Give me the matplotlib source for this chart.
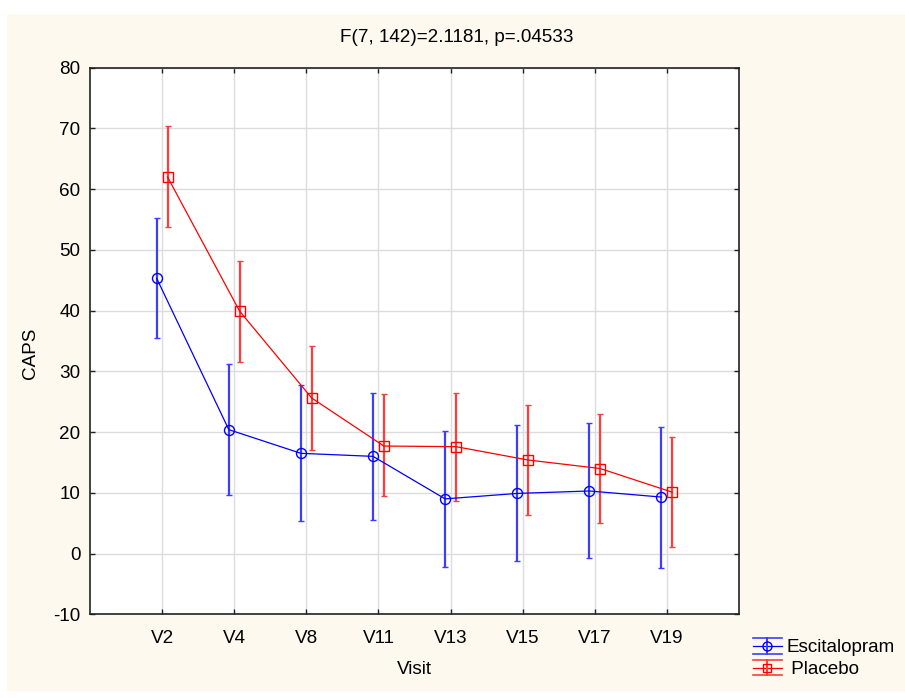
import numpy as np
import matplotlib
matplotlib.use("Agg")
import matplotlib.pyplot as plt
from matplotlib.patches import Rectangle
from matplotlib.lines import Line2D
from matplotlib.legend_handler import HandlerBase
from matplotlib.container import ErrorbarContainer

plt.rcParams['font.family'] = ['Liberation Sans', 'DejaVu Sans']
plt.rcParams['axes.unicode_minus'] = False

visits = ["V2", "V4", "V8", "V11", "V13", "V15", "V17", "V19"]
esc_mean = [45.3, 20.4, 16.5, 16.0, 9.0, 9.9, 10.3, 9.3]
esc_upper = [55.2, 31.2, 27.7, 26.5, 20.1, 21.2, 21.5, 20.9]
esc_lower = [35.5, 9.7, 5.3, 5.6, -2.2, -1.2, -0.8, -2.3]
plc_mean = [62.0, 39.9, 25.6, 17.7, 17.6, 15.4, 14.0, 10.1]
plc_upper = [70.4, 48.2, 34.2, 26.2, 26.5, 24.5, 22.9, 19.2]
plc_lower = [53.8, 31.6, 17.0, 9.5, 8.7, 6.3, 5.0, 1.1]
yticks = [-10, 0, 10, 20, 30, 40, 50, 60, 70, 80]
title = "F(7, 142)=2.1181, p=.04533"

FS = 13.6
fig = plt.figure(figsize=(9.05, 7.0), dpi=100)
fig.patch.set_facecolor('white')
fig.patches.append(Rectangle((7/905, 9/700), 898/905, 677/700, transform=fig.transFigure,
                             facecolor='#fdf9ef', edgecolor='none', zorder=-10))

ax = fig.add_axes([90/905, 1 - 614.3/700, (739 - 90)/905, (614.3 - 67.6)/700])
ax.set_facecolor('white')

x = np.arange(len(visits))
off = 0.075


def draw(xpos, mean, lower, upper, color, ecolor, marker, ms, label):
    mean = np.array(mean)
    yerr = [mean - np.array(lower), np.array(upper) - mean]
    return ax.errorbar(xpos, mean, yerr=yerr, color=color, lw=0.9, marker=marker, ms=ms,
                       mfc='none', mec=color, mew=1.0, ecolor=ecolor, elinewidth=1.6,
                       capsize=2.3, capthick=1.2, label=label)


draw(x - off, esc_mean, esc_lower, esc_upper, '#0000ff', '#3d3dff', 'o', 7.2, 'Escitalopram')
draw(x + off, plc_mean, plc_lower, plc_upper, '#ff0000', '#ff3d3d', 's', 7.0, ' Placebo')

ax.set_xlim(-1, len(visits))
ax.set_ylim(-10, 80)
ax.set_xticks(x)
ax.set_xticklabels(visits)
ax.set_yticks(yticks)
ax.grid(True, color='#dcdcdc', lw=1.0)
ax.set_axisbelow(True)
ax.tick_params(direction='in', length=3.5, width=1.0, top=True, right=True,
               labelsize=FS, color='#222222')
ax.tick_params(axis='x', pad=11.5)
ax.tick_params(axis='y', pad=7)
for s in ax.spines.values():
    s.set_linewidth(1.2)
    s.set_color('#222222')

ax.set_xlabel('Visit', fontsize=FS, labelpad=10)
fig.text(30/905, 1 - 353/700, 'CAPS', rotation=90, ha='center', va='center', fontsize=FS)
fig.text(457/905, 1 - 38/700, title, ha='center', va='center', fontsize=FS)


class ErrHandler(HandlerBase):
    def create_artists(self, legend, orig_handle, xdescent, ydescent, width, height, fontsize, trans):
        dline = orig_handle.lines[0]
        color = dline.get_color()
        marker = dline.get_marker()
        ecolor = orig_handle.lines[2][0].get_color()
        x0, x1 = -xdescent, -xdescent + width
        y0, y1 = -ydescent, -ydescent + height
        xm, ym = (x0 + x1) / 2, (y0 + y1) / 2
        arts = [
            Line2D([x0, x1], [ym, ym], color=color, lw=0.9),
            Line2D([xm, xm], [y0, y1], color=ecolor, lw=1.4),
            Line2D([x0, x1], [y0, y0], color=ecolor, lw=1.2),
            Line2D([x0, x1], [y1, y1], color=ecolor, lw=1.2),
            Line2D([xm], [ym], marker=marker, ms=dline.get_markersize() * 0.9, mfc='none',
                   mec=color, mew=1.0, ls='none'),
        ]
        for a in arts:
            a.set_transform(trans)
        return arts


h, l = ax.get_legend_handles_labels()
leg = fig.legend(h, l, loc='upper left', bbox_to_anchor=(752.7/905, 1 - 638/700),
                 frameon=False, fontsize=FS, borderpad=0, borderaxespad=0,
                 handlelength=1.55, handleheight=0.9, handletextpad=0.22, labelspacing=0.18,
                 handler_map={ErrorbarContainer: ErrHandler()})

fig.savefig('out.png', dpi=100, facecolor=fig.get_facecolor())
